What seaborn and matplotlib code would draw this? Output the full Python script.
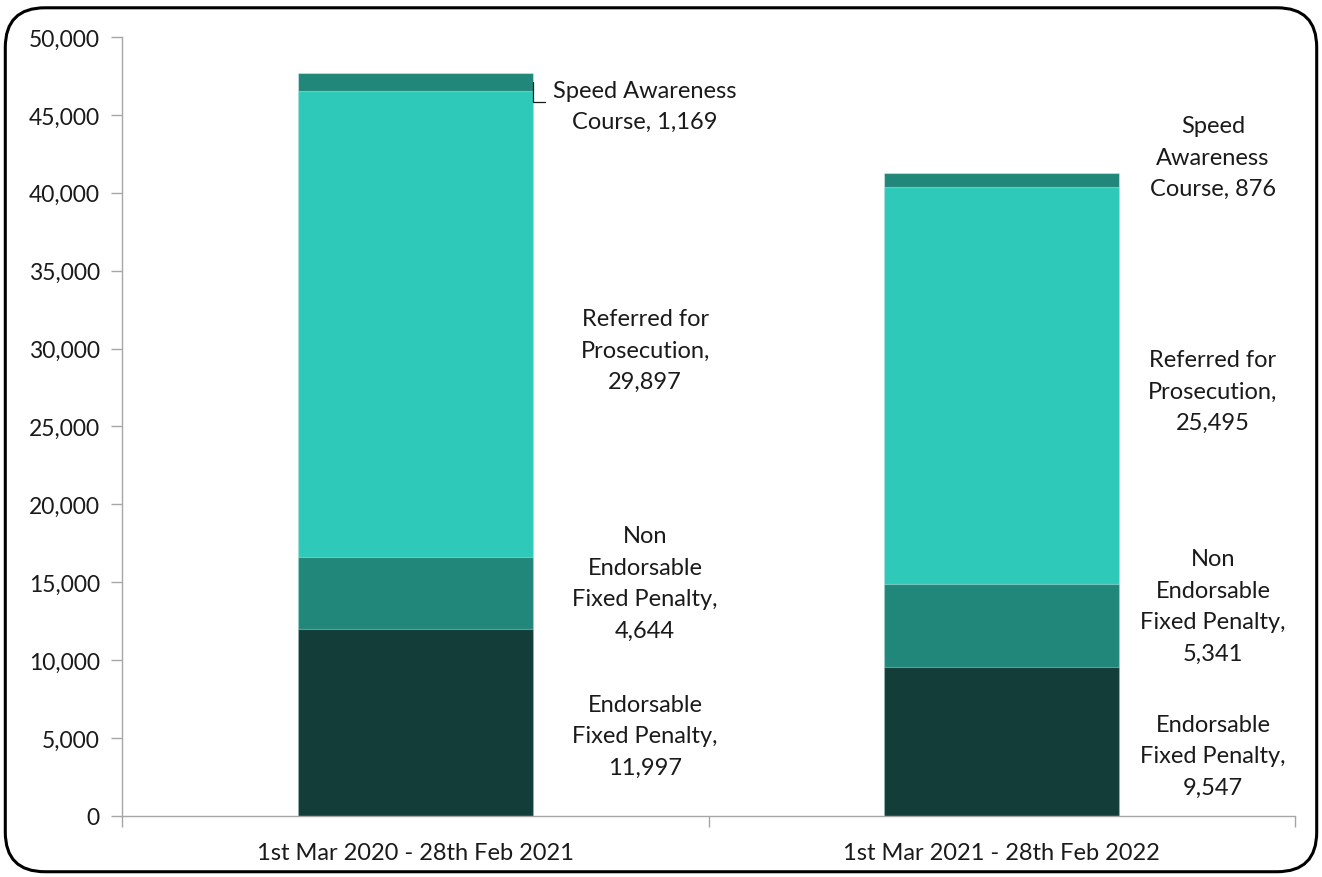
import matplotlib
matplotlib.use("Agg")
import matplotlib.pyplot as plt
from matplotlib.patches import FancyBboxPatch
from matplotlib.ticker import FuncFormatter, FixedLocator
import numpy as np
import pandas as pd
import seaborn as sns

# Outcomes of speeding offences by period
periods = ["1st Mar 2020 - 28th Feb 2021", "1st Mar 2021 - 28th Feb 2022"]
outcomes = ["Endorsable Fixed Penalty", "Non Endorsable Fixed Penalty",
            "Referred for Prosecution", "Speed Awareness Course"]
endorsable = [11997, 9547]
non_endorsable = [4644, 5341]
referred = [29897, 25495]
speed_awareness = [1169, 876]

# Wrapped label text for each segment, per period
label_lines = {
    0: ["Endorsable\nFixed Penalty,\n{}", "Non\nEndorsable\nFixed Penalty,\n{}",
        "Referred for\nProsecution,\n{}", "Speed Awareness\nCourse, {}"],
    1: ["Endorsable\nFixed Penalty,\n{}", "Non\nEndorsable\nFixed Penalty,\n{}",
        "Referred for\nProsecution,\n{}", "Speed\nAwareness\nCourse, {}"],
}

colors = ["#123d38", "#21877a", "#2ec9b8", "#21877a"]

sns.set_theme(style="white")
plt.rcParams["font.family"] = ["Lato", "DejaVu Sans"]

series = [endorsable, non_endorsable, referred, speed_awareness]
values = np.array(series, dtype=float)
cum = np.cumsum(values, axis=0)

fig = plt.figure(figsize=(13.22, 8.78), dpi=100)
ax = fig.add_axes([0.0923, 0.0695, 0.8873, 0.8872])

# Stacked bars: draw cumulative totals from the top layer downwards
for i in range(len(series) - 1, -1, -1):
    df = pd.DataFrame({"period": periods, "total": cum[i]})
    sns.barplot(data=df, x="period", y="total", color=colors[i], width=0.4,
                saturation=1, edgecolor=(1, 1, 1, 0.35), linewidth=0.8, ax=ax)

ax.set_xlim(-0.5, 1.5)
ax.set_ylim(0, 50000)
ax.set_xlabel("")
ax.set_ylabel("")

ax.yaxis.set_major_locator(FixedLocator(np.arange(0, 50001, 5000)))
ax.yaxis.set_major_formatter(FuncFormatter(lambda v, p: f"{int(v):,}"))
ax.tick_params(axis="y", which="major", left=True, length=8, width=1,
               color="#a6a6a6", labelsize=16.5, labelcolor="#1a1a1a", pad=8)
ax.tick_params(axis="x", which="major", bottom=False, labelsize=17,
               labelcolor="#1a1a1a", pad=13)
ax.xaxis.set_minor_locator(FixedLocator([-0.5, 0.5, 1.5]))
ax.tick_params(axis="x", which="minor", bottom=True, length=8, width=1,
               color="#a6a6a6")

for side in ["top", "right"]:
    ax.spines[side].set_visible(False)
for side in ["left", "bottom"]:
    ax.spines[side].set_color("#a6a6a6")
    ax.spines[side].set_linewidth(1)

# Data labels beside each bar
label_x = [0.392, 1.36]
label_y = {
    0: [5135, 14955, 29910, 45570],
    1: [3851, 13479, 27278, 42298],
}
for j in range(len(periods)):
    for i in range(len(series)):
        txt = label_lines[j][i].format(f"{int(values[i, j]):,}")
        ax.text(label_x[j], label_y[j][i], txt, ha="center", va="center",
                fontsize=17, color="#1a1a1a", linespacing=1.62)

# Leader line for the first Speed Awareness label
seg_mid = cum[2, 0] + values[3, 0] / 2
ax.plot([0.2, 0.2, 0.221], [seg_mid, 45828, 45828], color="#1a1a1a",
        linewidth=0.9, clip_on=False)

# Rounded frame around the chart
frame = FancyBboxPatch((0.004, 0.006), 0.992, 0.984,
                       boxstyle="round,pad=0,rounding_size=0.03",
                       transform=fig.transFigure, fill=False,
                       edgecolor="black", linewidth=2.2,
                       mutation_aspect=1322 / 878)
fig.patches.append(frame)

fig.savefig("out.png", dpi=100)
